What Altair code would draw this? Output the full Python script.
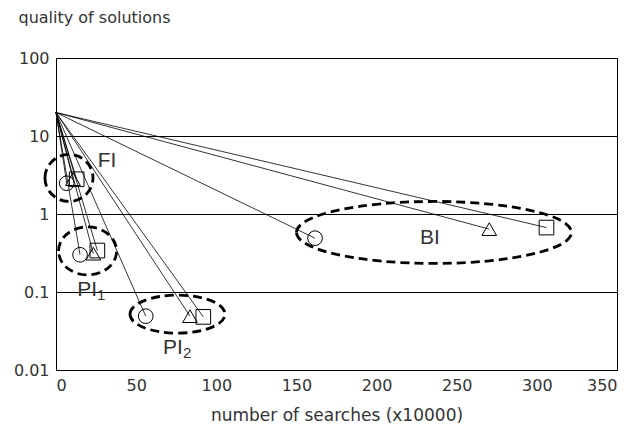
import altair as alt
import pandas as pd

# ---- data ----
groups = ["FI", "FI", "FI", "PI1", "PI1", "PI1", "PI2", "PI2", "PI2", "BI", "BI", "BI"]
shapes = ["circle", "triangle-up", "square"] * 4
searches = [6.7, 10.6, 12.9, 15.0, 23.3, 25.8, 56.0, 83.6, 91.9, 161.6, 270.3, 306.0]
quality = [2.48, 2.8, 2.79, 0.30, 0.31, 0.34, 0.049, 0.049, 0.048, 0.49, 0.64, 0.67]
START_X = 0
START_Y = 20

x_ticks = [0, 50, 100, 150, 200, 250, 300, 350]
y_ticks = [0.01, 0.1, 1, 10, 100]

# annotation ellipses: name, centre x, centre y, width px, height px
ell_names = ["FI", "PI1", "PI2", "BI"]
ell_cx = [8.1, 19.7, 75.8, 235.8]
ell_cy = [2.9, 0.336, 0.052, 0.58]
ell_w = [48, 58, 95, 275]
ell_h = [47, 48, 38, 62]

AXFONT = "DejaVu Sans"
FONT = "Liberation Sans"
TXT = "#333333"

df = pd.DataFrame({"group": groups, "shape": shapes, "x": searches, "y": quality})
df["x0"] = START_X
df["y0"] = START_Y

xscale = alt.Scale(domain=[0, 350], nice=False)
yscale = alt.Scale(type="log", domain=[0.01, 100], nice=False)

base = alt.Chart(df)

xaxis = alt.Axis(values=x_ticks, grid=False, ticks=False, domainColor="black",
                 labelFont=AXFONT, labelFontSize=16, labelColor=TXT, labelPadding=7,
                 title="number of searches (x10000)", titleFont=AXFONT, titleFontSize=17,
                 titleFontWeight="normal", titleColor=TXT, titlePadding=14)
yaxis = alt.Axis(values=y_ticks, grid=True, gridColor="black", gridOpacity=1, gridWidth=1,
                 ticks=False, domainColor="black",
                 labelExpr="datum.value < 1 ? format(datum.value, '.2~f') : format(datum.value, 'd')",
                 labelFont=AXFONT, labelFontSize=16, labelColor=TXT, labelPadding=7,
                 title="quality of solutions", titleFont=AXFONT, titleFontSize=16,
                 titleFontWeight="normal", titleColor=TXT, titleAngle=0, titleAlign="left",
                 titleBaseline="alphabetic", titleX=-38, titleY=-36)

rules = base.mark_rule(color="black", strokeWidth=0.8).encode(
    x=alt.X("x0:Q", scale=xscale, axis=xaxis),
    y=alt.Y("y0:Q", scale=yscale, axis=yaxis),
    x2="x:Q", y2="y:Q",
)

points = base.mark_point(filled=False, color="black", strokeWidth=1, size=215, opacity=1).encode(
    x=alt.X("x:Q", scale=xscale),
    y=alt.Y("y:Q", scale=yscale),
    shape=alt.Shape("shape:N", scale=None),
)

K = 0.5523
layers = [rules, points]
for name, cx, cy, w, h in zip(ell_names, ell_cx, ell_cy, ell_w, ell_h):
    r = h / w
    path = (f"M -1 0 C -1 {-K*r:.4f} {-K:.4f} {-r:.4f} 0 {-r:.4f} "
            f"C {K:.4f} {-r:.4f} 1 {-K*r:.4f} 1 0 "
            f"C 1 {K*r:.4f} {K:.4f} {r:.4f} 0 {r:.4f} "
            f"C {-K:.4f} {r:.4f} -1 {K*r:.4f} -1 0 Z")
    e = alt.Chart(pd.DataFrame({"x": [cx], "y": [cy]})).mark_point(
        shape=path, size=w * w, filled=False, color="black", strokeWidth=2.8,
        strokeDash=[9, 5], opacity=1
    ).encode(x=alt.X("x:Q", scale=xscale), y=alt.Y("y:Q", scale=yscale))
    layers.append(e)

# group labels
lab_text = ["FI", "BI"]
lab_x = [31.8, 233.3]
lab_y = [4.78, 0.49]
labels = alt.Chart(pd.DataFrame({"t": lab_text, "x": lab_x, "y": lab_y})).mark_text(
    font=FONT, fontSize=21, color=TXT, align="center", baseline="middle"
).encode(x=alt.X("x:Q", scale=xscale), y=alt.Y("y:Q", scale=yscale), text="t:N")

pi_x = [25.6, 79.2]
pi_y = [0.106, 0.0191]
pi_sub = ["1", "2"]
pi_df = pd.DataFrame({"x": pi_x, "y": pi_y, "sub": pi_sub, "t": ["PI", "PI"]})
pi_main = alt.Chart(pi_df).mark_text(
    font=FONT, fontSize=21, color=TXT, align="right", baseline="middle"
).encode(x=alt.X("x:Q", scale=xscale), y=alt.Y("y:Q", scale=yscale), text="t:N")
pi_s = alt.Chart(pi_df).mark_text(
    font=FONT, fontSize=15, color=TXT, align="left", baseline="middle", dy=5
).encode(x=alt.X("x:Q", scale=xscale), y=alt.Y("y:Q", scale=yscale), text="sub:N")

layers += [labels, pi_main, pi_s]

chart = alt.layer(*layers).properties(
    width=561, height=312,
    autosize=alt.AutoSizeParams(type="none"),
    padding={"left": 48, "top": 50, "right": 12, "bottom": 62},
).configure_view(stroke="black", strokeWidth=1)

chart.save("out.html", embed_options={"renderer": "svg", "actions": False})
